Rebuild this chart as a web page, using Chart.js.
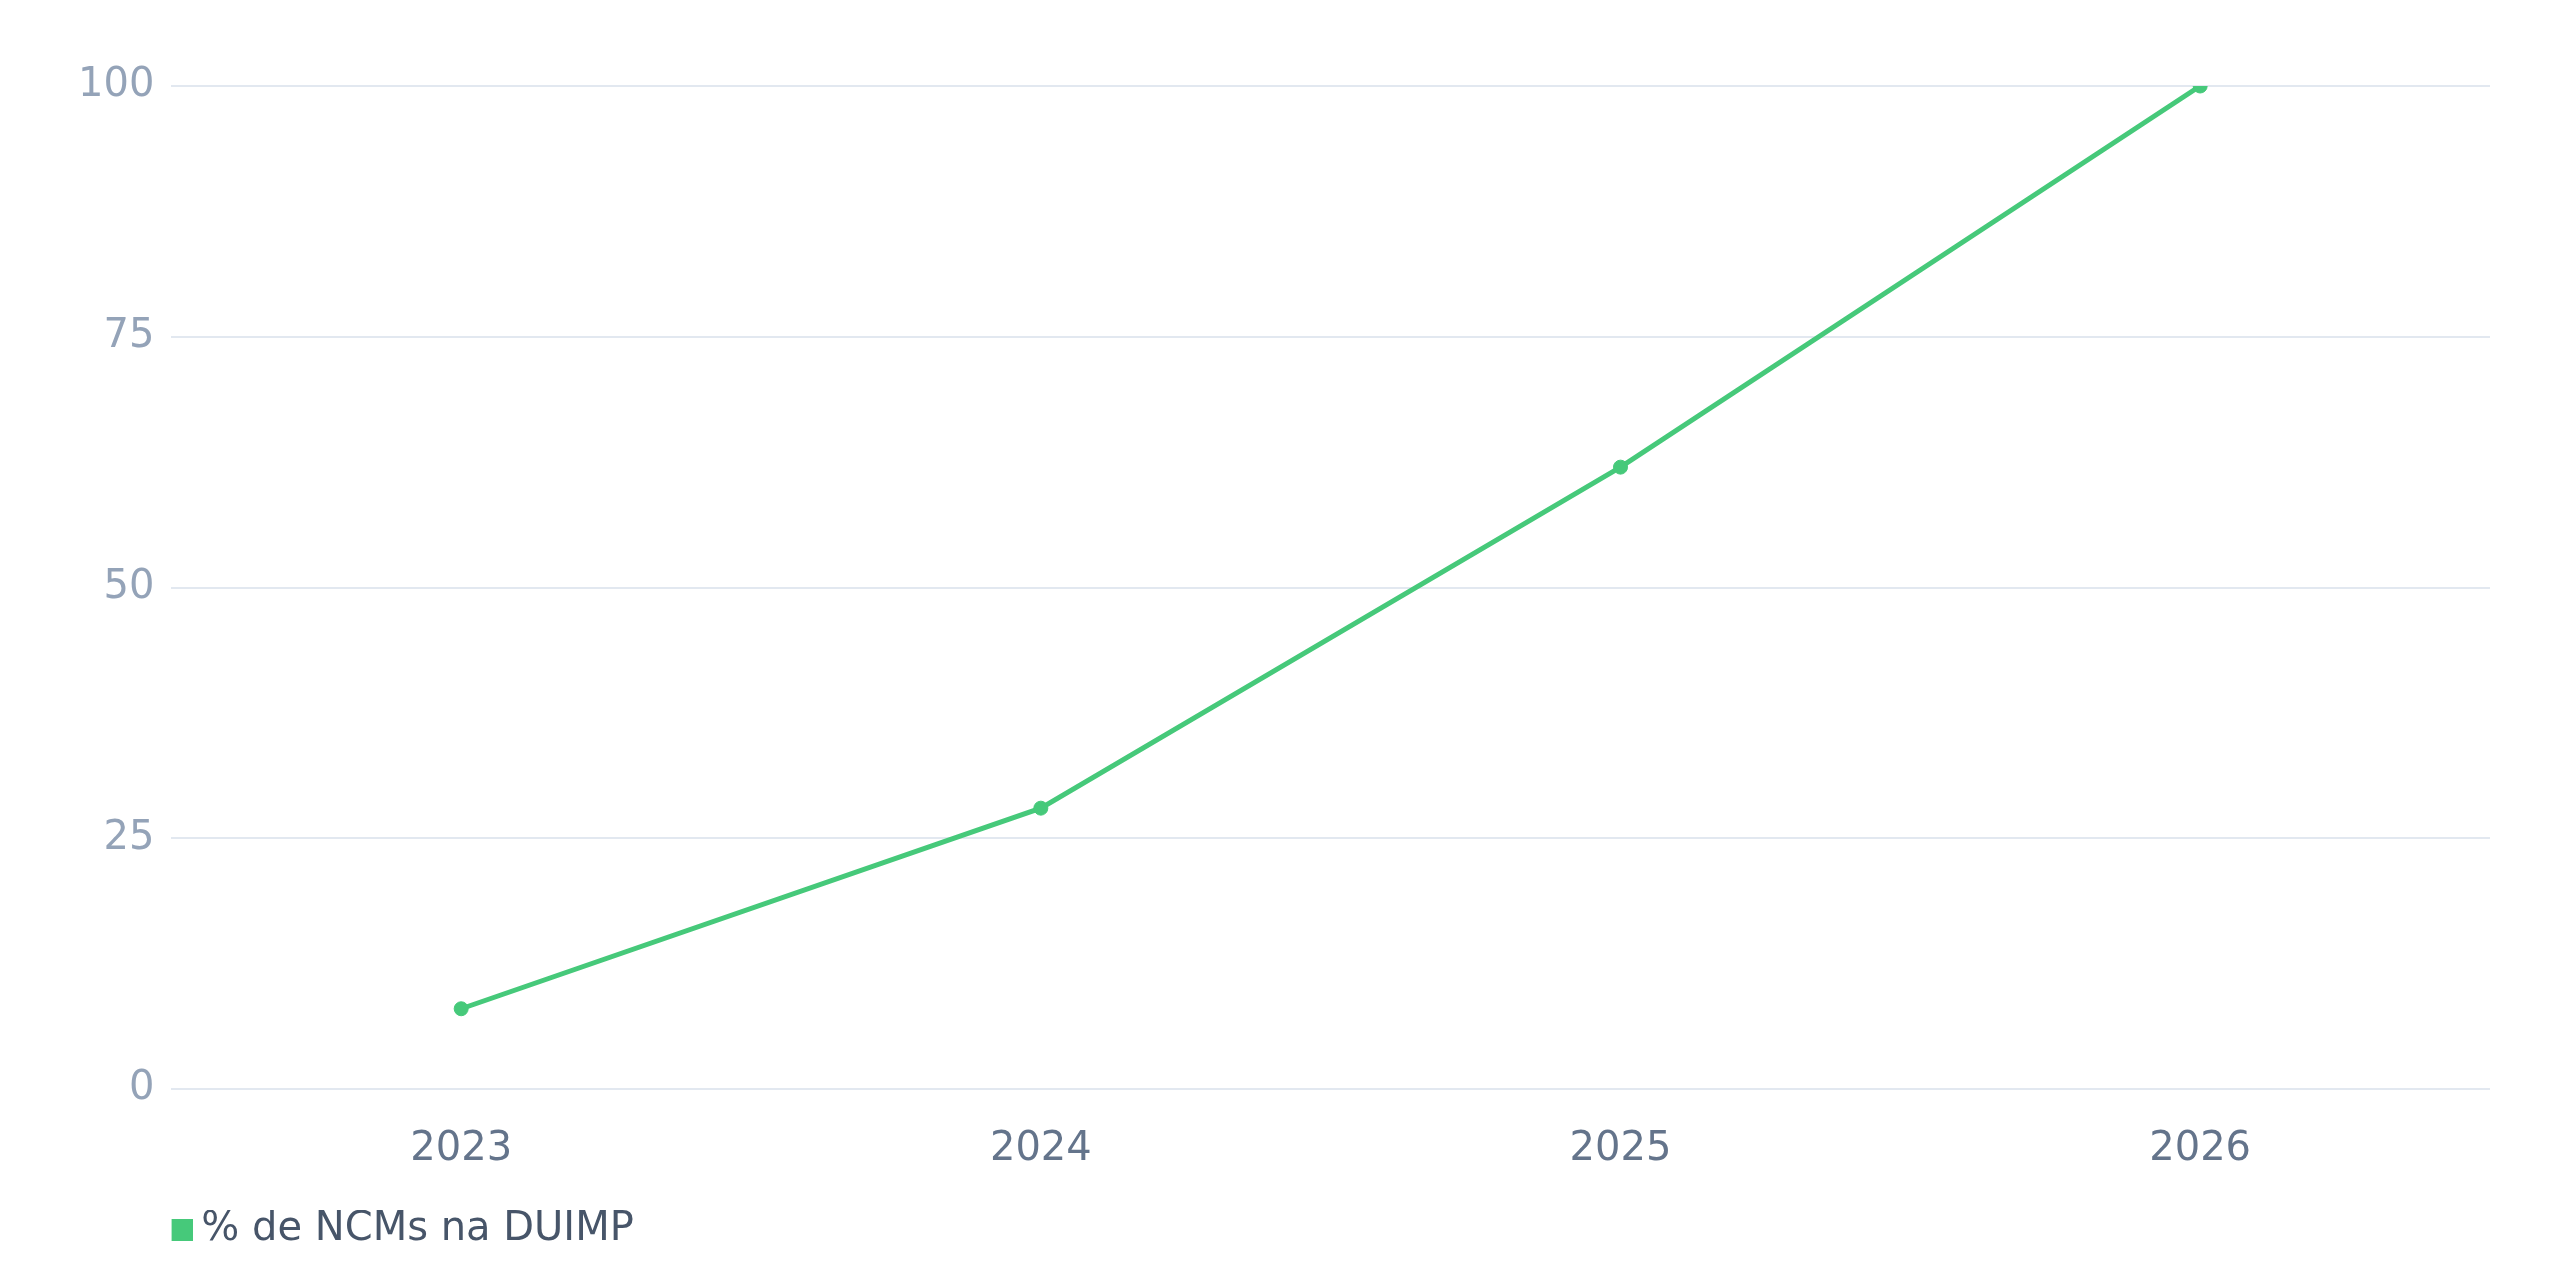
<!DOCTYPE html>
<html>
<head>
<meta charset="utf-8">
<script src="https://cdn.jsdelivr.net/npm/chart.js@4"></script>
<style>
  html, body { margin: 0; padding: 0; background: #ffffff; }
  canvas { display: block; }
</style>
</head>
<body>
<canvas id="c" width="2560" height="1280"></canvas>
<script>
const categories = ['2023', '2024', '2025', '2026'];
const seriesLabel = '% de NCMs na DUIMP';
const seriesValues = [8, 28, 62, 100];
const yMin = 0;
const yMax = 100;
const yStep = 25;

const green = '#46c97a';
const fontFamily = '"DejaVu Sans", sans-serif';

// legend marker: 22x22 square, drawn off-centre inside a wider transparent image
const marker = document.createElement('canvas');
marker.width = 34;
marker.height = 22;
const mctx = marker.getContext('2d');
mctx.fillStyle = green;
mctx.fillRect(12, 0, 22, 22);

const ctx = document.getElementById('c').getContext('2d');
new Chart(ctx, {
  type: 'line',
  data: {
    labels: categories,
    datasets: [{
      label: seriesLabel,
      data: seriesValues,
      borderColor: green,
      backgroundColor: green,
      borderWidth: 5,
      pointRadius: 7,
      pointBorderWidth: 1,
      pointBackgroundColor: green,
      pointBorderColor: green,
      tension: 0,
      fill: false
    }]
  },
  options: {
    responsive: false,
    devicePixelRatio: 1,
    animation: false,
    layout: { padding: { left: 61, right: 70, top: 86, bottom: 20 } },
    scales: {
      x: {
        offset: true,
        grid: { display: false, drawTicks: false },
        border: { display: false },
        ticks: { color: '#64748b', font: { family: fontFamily, size: 40 }, padding: 36.5 }
      },
      y: {
        min: yMin,
        max: yMax,
        grid: { color: '#e2e8f0', lineWidth: 2, drawTicks: false },
        border: { display: false },
        ticks: { stepSize: yStep, color: '#94a3b8', font: { family: fontFamily, size: 40 }, padding: 17 }
      }
    },
    plugins: {
      tooltip: { enabled: false },
      legend: {
        display: true,
        position: 'bottom',
        align: 'start',
        fullSize: false,
        labels: {
          usePointStyle: true,
          boxWidth: 10,
          boxHeight: 22,
          padding: 0,
          color: '#475569',
          font: { family: fontFamily, size: 40 },
          generateLabels: function(chart) {
            const items = Chart.defaults.plugins.legend.labels.generateLabels(chart);
            items.forEach(function(it) { it.lineWidth = 0; it.pointStyle = marker; });
            return items;
          }
        }
      }
    }
  }
});
</script>
</body>
</html>
